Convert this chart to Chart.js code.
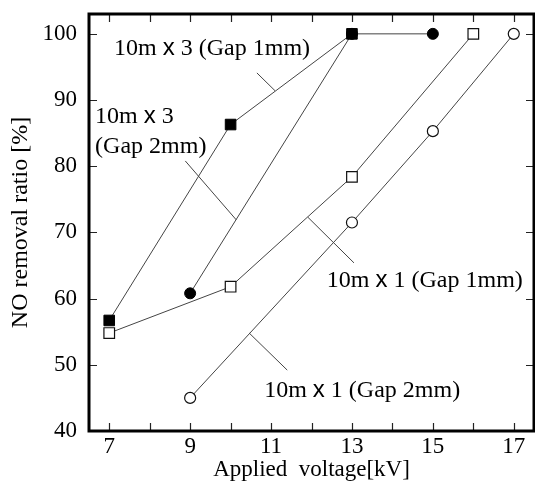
<!DOCTYPE html>
<html><head><meta charset="utf-8">
<script src="https://cdn.jsdelivr.net/npm/chart.js@4"></script>
<style>html,body{margin:0;padding:0;background:#fff}</style>
</head><body>
<canvas id="c" width="535" height="495"></canvas>
<script>
// ---- data ----
const voltA = [7, 10, 13];            // 10m x 3 (Gap 1mm)
const ratioA = [56.7, 86.3, 100];
const voltB = [9, 13, 15];            // 10m x 3 (Gap 2mm)
const ratioB = [60.8, 100, 100];
const voltC = [7, 10, 13, 16];        // 10m x 1 (Gap 1mm)
const ratioC = [54.8, 61.8, 78.4, 100];
const voltD = [9, 13, 15, 17];        // 10m x 1 (Gap 2mm)
const ratioD = [45.0, 71.5, 85.3, 100];
const seriesNames = ['10m x 3 (Gap 1mm)', '10m x 3 (Gap 2mm)', '10m x 1 (Gap 1mm)', '10m x 1 (Gap 2mm)'];
const xTickValues = [7, 8, 9, 10, 11, 12, 13, 14, 15, 16, 17];
const xTickLabels = ['7', '9', '11', '13', '15', '17'];
const yTickValues = [40, 50, 60, 70, 80, 90, 100];
const xTitle = 'Applied  voltage[kV]';
const yTitle = 'NO removal ratio [%]';

// ---- annotation placement (data coordinates) ----
const labelPlacement = [
  {lines: [['10m ', 'x', ' 3 (Gap 1mm)']], x: 7.12, y: 96.8},
  {lines: [['10m ', 'x', ' 3'], ['(Gap 2mm)']], x: 6.65, y: 86.5, lineStep: 4.5},
  {lines: [['10m ', 'x', ' 1 (Gap 1mm)']], x: 12.38, y: 61.75},
  {lines: [['10m ', 'x', ' 1 (Gap 2mm)']], x: 10.83, y: 45.1}
];
const leaderLines = [
  [10.65, 94.1, 11.10, 91.4],
  [8.88, 80.8, 10.14, 71.9],
  [11.91, 72.3, 13.05, 65.4],
  [10.46, 54.8, 11.40, 49.2]
];

const pts = (xs, ys) => xs.map((x, i) => ({x, y: ys[i]}));
const serif = '"Liberation Serif", "Times New Roman", serif';
const sans = '"Liberation Sans", Arial, sans-serif';

const decor = {
  id: 'decor',
  beforeDatasetsDraw(chart) {
    const {ctx, chartArea: a, scales: {x, y}} = chart;
    ctx.save();
    // inward tick marks
    ctx.strokeStyle = '#222'; ctx.lineWidth = 1.2;
    ctx.beginPath();
    xTickValues.forEach(v => {
      const px = Math.round(x.getPixelForValue(v)) + 0.5;
      ctx.moveTo(px, a.bottom); ctx.lineTo(px, a.bottom - 8);
      ctx.moveTo(px, a.top); ctx.lineTo(px, a.top + 8);
    });
    yTickValues.forEach(v => {
      const py = Math.round(y.getPixelForValue(v)) + 0.5;
      ctx.moveTo(a.left, py); ctx.lineTo(a.left + 8, py);
      ctx.moveTo(a.right, py); ctx.lineTo(a.right - 8, py);
    });
    ctx.stroke();
    // x tick labels
    ctx.fillStyle = '#000'; ctx.font = '23px ' + serif;
    ctx.textAlign = 'center'; ctx.textBaseline = 'alphabetic';
    xTickLabels.forEach(t => {
      ctx.fillText(t, x.getPixelForValue(Number(t)), a.bottom + 22);
    });
    // frame
    ctx.strokeStyle = '#000'; ctx.lineWidth = 3;
    ctx.strokeRect(a.left, a.top, a.right - a.left, a.bottom - a.top);
    // leader lines
    ctx.strokeStyle = '#444'; ctx.lineWidth = 1;
    ctx.beginPath();
    leaderLines.forEach(l => {
      ctx.moveTo(x.getPixelForValue(l[0]), y.getPixelForValue(l[1]));
      ctx.lineTo(x.getPixelForValue(l[2]), y.getPixelForValue(l[3]));
    });
    ctx.stroke();
    // labels
    ctx.textAlign = 'left';
    labelPlacement.forEach(lab => {
      lab.lines.forEach((parts, li) => {
        let px = x.getPixelForValue(lab.x);
        const py = y.getPixelForValue(lab.y - li * (lab.lineStep || 0));
        parts.forEach((p) => {
          ctx.font = (p === 'x' ? '24px ' + sans : '24px ' + serif);
          ctx.fillText(p, px, py);
          px += ctx.measureText(p).width;
        });
      });
    });
    ctx.restore();
  }
};

new Chart(document.getElementById('c'), {
  type: 'scatter',
  data: {
    datasets: [
      {label: seriesNames[0], data: pts(voltA, ratioA), showLine: true, order: 0,
       borderColor: '#444', borderWidth: 1, pointStyle: 'rect', pointRadius: 7.5,
       pointBackgroundColor: '#000', pointBorderColor: '#000', pointBorderWidth: 1},
      {label: seriesNames[1], data: pts(voltB, ratioB), showLine: true, order: 1,
       borderColor: '#444', borderWidth: 1, pointStyle: 'circle', pointRadius: 5.5,
       pointBackgroundColor: '#000', pointBorderColor: '#000', pointBorderWidth: 1},
      {label: seriesNames[2], data: pts(voltC, ratioC), showLine: true, order: 2,
       borderColor: '#444', borderWidth: 1, pointStyle: 'rect', pointRadius: 7.5,
       pointBackgroundColor: '#fff', pointBorderColor: '#111', pointBorderWidth: 1.2},
      {label: seriesNames[3], data: pts(voltD, ratioD), showLine: true, order: 3,
       borderColor: '#444', borderWidth: 1, pointStyle: 'circle', pointRadius: 5.5,
       pointBackgroundColor: '#fff', pointBorderColor: '#111', pointBorderWidth: 1.2}
    ]
  },
  options: {
    responsive: false, animation: false, devicePixelRatio: 1,
    layout: {autoPadding: false, padding: {top: 14, right: 1, left: 0, bottom: 0}},
    plugins: {legend: {display: false}, tooltip: {enabled: false}},
    scales: {
      x: {
        type: 'linear', min: 6.5, max: 17.5,
        afterBuildTicks: s => { s.ticks = xTickValues.map(v => ({value: v})); },
        afterFit: s => { s.height = 64; s.paddingLeft = 0; s.paddingRight = 0; },
        grid: {display: false, drawTicks: false}, border: {display: false},
        ticks: {display: false},
        title: {display: true, text: xTitle, color: '#000', font: {family: serif, size: 23},
          padding: {top: 0, bottom: 11}}
      },
      y: {
        type: 'linear', min: 40, max: 103,
        afterBuildTicks: s => { s.ticks = yTickValues.map(v => ({value: v})); },
        afterFit: s => { s.width = 89; s.paddingTop = 0; s.paddingBottom = 0; },
        grid: {display: false, drawTicks: false}, border: {display: false},
        ticks: {padding: 12, color: '#000', font: {family: serif, size: 23}},
        title: {display: true, text: yTitle, color: '#000', font: {family: serif, size: 24},
          padding: {top: 6, bottom: 0}}
      }
    }
  },
  plugins: [decor]
});
</script>
</body></html>
